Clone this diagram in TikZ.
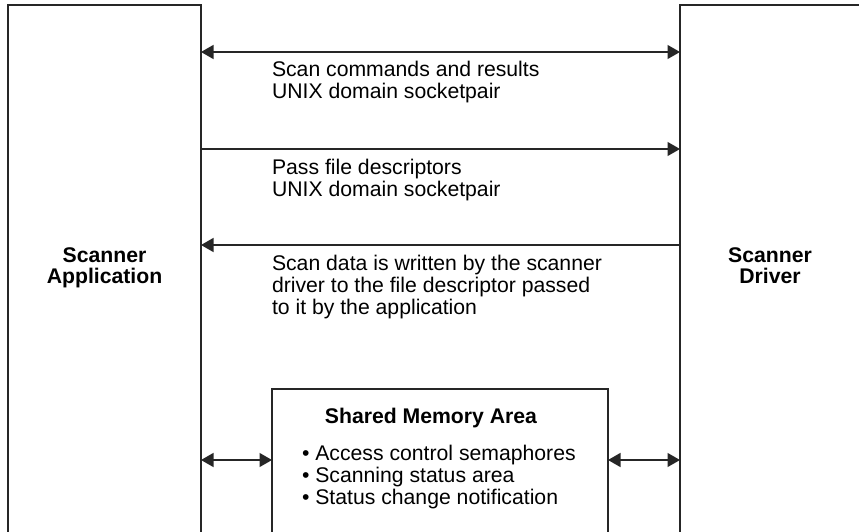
\documentclass[tikz,border=0pt]{standalone}
\usepackage{fontspec}
\setmainfont{Liberation Sans}
\usetikzlibrary{arrows.meta}
\begin{document}
\begin{tikzpicture}[x=1pt,y=-1pt,
  >={Triangle[length=12.5pt,width=14pt]},
  box/.style={draw=black!85, line width=1.3pt, inner sep=0pt, outer sep=0pt, anchor=north west},
  conn/.style={draw=black!85, line width=1.3pt},
  lbl/.style={inner sep=0pt, outer sep=0pt, align=left, anchor=base west, font=\fontsize{21.2}{22}\selectfont},
  ttl/.style={inner sep=0pt, outer sep=0pt, align=center, anchor=base, font=\fontsize{21.2}{21}\selectfont\bfseries}]
\useasboundingbox (0,0) rectangle (859,532);
\clip (0,0) rectangle (859,532);
\node[box, minimum width=193pt, minimum height=600pt] (app) at (8,5) {};
\node[box, minimum width=220pt, minimum height=600pt] (drv) at (680,5) {};
\node[box, minimum width=336pt, minimum height=200pt] (shm) at (272,389) {};
\coordinate (y1) at (0,52);
\coordinate (y2) at (0,149);
\coordinate (y3) at (0,245);
\coordinate (y4) at (0,460);
\draw[conn, <->] (app.east |- y1) -- (drv.west |- y1);
\draw[conn, ->] (app.east |- y2) -- (drv.west |- y2);
\draw[conn, <-] (app.east |- y3) -- (drv.west |- y3);
\draw[conn, <->] (app.east |- y4) -- (shm.west |- y4);
\draw[conn, <->] (shm.east |- y4) -- (drv.west |- y4);
\node[lbl] (l1) at (272,99) {Scan commands and results\\UNIX domain socketpair};
\node[lbl] (l2) at (272,196) {Pass file descriptors\\UNIX domain socketpair};
\node[lbl] (l3) at (272,314) {Scan data is written by the scanner\\driver to the file descriptor passed\\to it by the application};
\node[ttl] (tapp) at (104.5,283) {Scanner\\Application};
\node[ttl] (tdrv) at (770,283) {Scanner\\Driver};
\node[ttl] (tshm) at (431,423) {Shared Memory Area};
\node[lbl] (bul) at (302,504) {• Access control semaphores\\• Scanning status area\\• Status change notification};
\end{tikzpicture}
\end{document}
